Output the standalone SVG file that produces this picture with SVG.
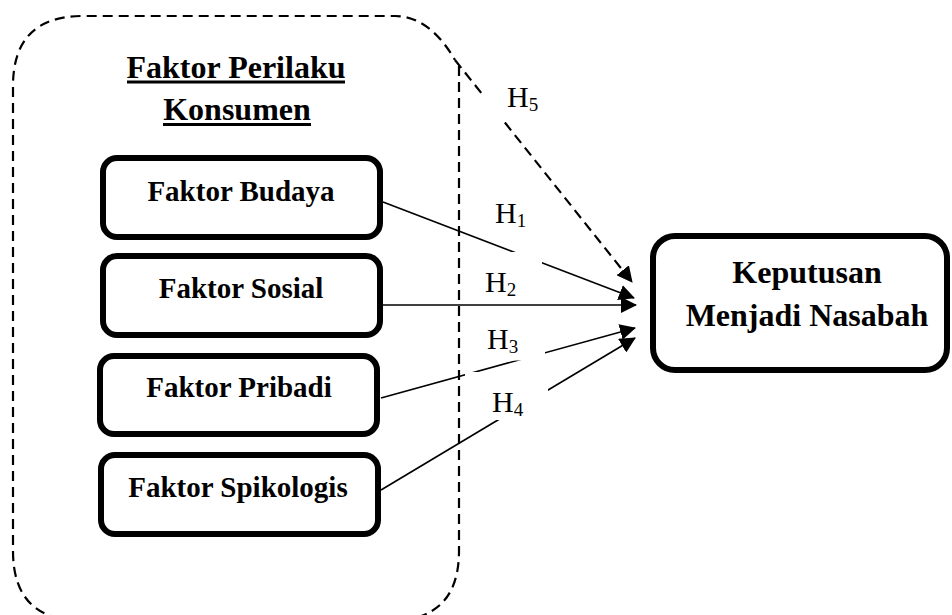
<svg xmlns="http://www.w3.org/2000/svg" width="952" height="615" viewBox="0 0 952 615">
<style>
.node{fill:#fff;stroke:#000;stroke-width:6}
.nt{font-family:"Liberation Serif","Times New Roman",Times,serif;font-weight:bold;font-size:29px;text-anchor:middle;fill:#000}
.hl{font-family:"Liberation Serif","Times New Roman",Times,serif;font-size:30px;fill:#000}
.sub{font-size:19px}
.solid{stroke:#000;stroke-width:1.6;fill:none}
.dash{stroke:#000;stroke-width:2.2;fill:none;stroke-dasharray:10 6}
.lb{fill:#fff;stroke:none}
</style>
<defs>
<marker id="ah" viewBox="0 0 16 16" refX="15" refY="8" markerWidth="16" markerHeight="16" markerUnits="userSpaceOnUse" orient="auto">
<path d="M0,0 L16,8 L0,16 z" fill="#000" stroke="none"/>
</marker>
</defs>
<rect width="952" height="615" fill="#fff"/>
<g id="container">
<path class="dash" d="M459,66 L459,551 Q459,621 389,621 L83,621 Q13,621 13,551 L13,86 Q13,16 83,16 L395,16 C420,16 440,34 455,60"/>
<text x="236" y="78" class="nt" style="font-size:32px">Faktor Perilaku</text>
<line x1="127" y1="82" x2="345" y2="82" stroke="#000" stroke-width="3"/>
<text x="237" y="120" class="nt" style="font-size:32px">Konsumen</text>
<line x1="163" y1="124.5" x2="311" y2="124.5" stroke="#000" stroke-width="3"/>
</g>
<g id="connectors">
<line class="dash" x1="455" y1="60" x2="632" y2="282" marker-end="url(#ah)"/>
<line class="solid" x1="383" y1="202" x2="634" y2="298" marker-end="url(#ah)"/>
<line class="solid" x1="383" y1="305" x2="636" y2="305" marker-end="url(#ah)"/>
<line class="solid" x1="381" y1="398" x2="635" y2="328" marker-end="url(#ah)"/>
<line class="solid" x1="381" y1="490" x2="635" y2="338" marker-end="url(#ah)"/>
</g>
<g id="labels">
<rect class="lb" x="483" y="70" width="67" height="52"/>
<rect class="lb" x="478" y="252" width="64" height="48"/>
<rect class="lb" x="470" y="312" width="75" height="48.5"/>
<rect class="lb" x="465" y="372" width="83" height="48"/>
<text class="hl" x="507" y="107">H<tspan class="sub" dy="4">5</tspan></text>
<text class="hl" x="495" y="223">H<tspan class="sub" dy="4">1</tspan></text>
<text class="hl" x="485" y="292">H<tspan class="sub" dy="4">2</tspan></text>
<text class="hl" x="487" y="349">H<tspan class="sub" dy="4">3</tspan></text>
<text class="hl" x="492" y="412">H<tspan class="sub" dy="4">4</tspan></text>
</g>
<g id="budaya">
<rect class="node" x="103" y="158" width="277" height="79" rx="14"/>
<text class="nt" x="241" y="201">Faktor Budaya</text>
</g>
<g id="sosial">
<rect class="node" x="103" y="256" width="277" height="79" rx="14"/>
<text class="nt" x="241" y="298">Faktor Sosial</text>
</g>
<g id="pribadi">
<rect class="node" x="100" y="356" width="277" height="78" rx="14"/>
<text class="nt" x="239" y="397">Faktor Pribadi</text>
</g>
<g id="spikologis">
<rect class="node" x="101" y="455" width="277" height="79" rx="14"/>
<text class="nt" x="238" y="497">Faktor Spikologis</text>
</g>
<g id="keputusan">
<rect class="node" x="653" y="236" width="294" height="134" rx="22"/>
<text class="nt" x="807" y="283" style="font-size:32px">Keputusan</text>
<text class="nt" x="807" y="326" style="font-size:32px">Menjadi Nasabah</text>
</g>
</svg>
